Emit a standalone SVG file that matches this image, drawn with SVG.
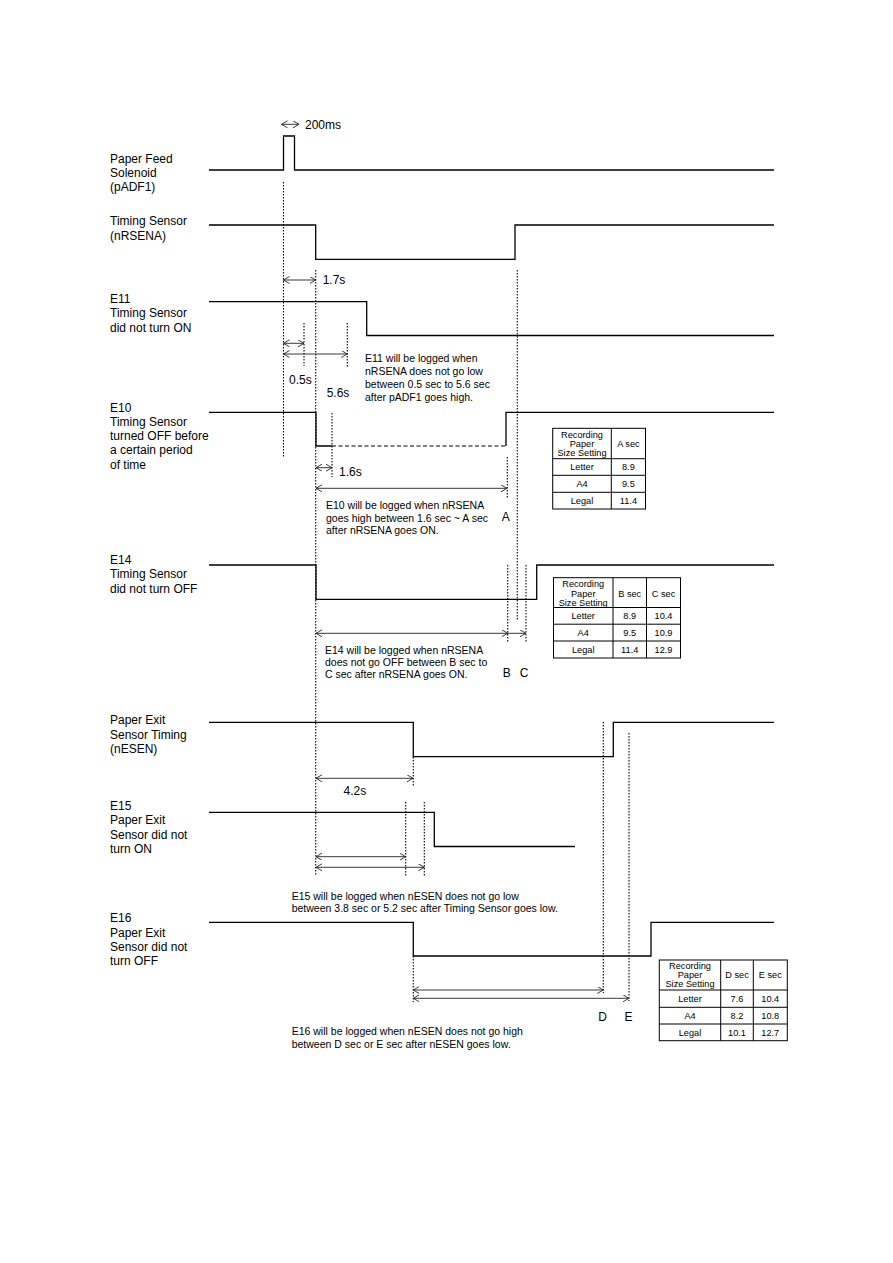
<svg xmlns="http://www.w3.org/2000/svg" width="893" height="1263" viewBox="0 0 893 1263">
<defs>
<style>
.w{fill:none;stroke:#000;stroke-width:1.3}
.g{fill:none;stroke:#000;stroke-width:1.1;stroke-dasharray:1.4 1.6}
.d{fill:none;stroke:#000;stroke-width:1.1;stroke-dasharray:4 2.5}
.a{fill:none;stroke:#222;stroke-width:0.9;marker-start:url(#ah);marker-end:url(#ah)}
.a1{fill:none;stroke:#222;stroke-width:0.9;marker-end:url(#ah)}
.t{font-family:"Liberation Sans",Arial,sans-serif;font-size:12px;fill:#000}
.n{font-family:"Liberation Sans",Arial,sans-serif;font-size:10.5px;fill:#000}
.tb{fill:none;stroke:#000;stroke-width:1}
.th{font-family:"Liberation Sans",Arial,sans-serif;font-size:9.2px;fill:#000;text-anchor:middle}
.c{text-anchor:middle}
</style>
<marker id="ah" markerWidth="9" markerHeight="9" refX="6" refY="3.5" orient="auto-start-reverse" markerUnits="userSpaceOnUse">
<path d="M0,0 L6,3.5 L0,7" fill="none" stroke="#222" stroke-width="0.9"/>
</marker>
</defs>
<rect width="893" height="1263" fill="#fff"/>

<g id="sig-padf1">
<text class="t" x="110" y="162.5">Paper Feed</text>
<text class="t" x="110" y="176.8">Solenoid</text>
<text class="t" x="110" y="191">(pADF1)</text>
<path class="w" d="M209,170 H283.5 V136 H294.5 V170 H774"/>
</g>
<g id="sig-nrsena">
<text class="t" x="110" y="225.3">Timing Sensor</text>
<text class="t" x="110" y="239.6">(nRSENA)</text>
<path class="w" d="M209,225 H315.7 V259.3 H515 V225 H774"/>
</g>
<g id="sig-e11">
<text class="t" x="110" y="303">E11</text>
<text class="t" x="110" y="317.3">Timing Sensor</text>
<text class="t" x="110" y="331.6">did not turn ON</text>
<path class="w" d="M209,301.7 H366.7 V335.5 H774"/>
</g>
<g id="sig-e10">
<text class="t" x="110" y="412">E10</text>
<text class="t" x="110" y="426">Timing Sensor</text>
<text class="t" x="110" y="440.3">turned OFF before</text>
<text class="t" x="110" y="454.3">a certain period</text>
<text class="t" x="110" y="468.6">of time</text>
<path class="w" d="M209,412.3 H316 V446 H332"/>
<path class="d" d="M332,446 H506"/>
<path class="w" d="M506,446 V412.3 H774"/>
</g>
<g id="sig-e14">
<text class="t" x="110" y="563.5">E14</text>
<text class="t" x="110" y="578">Timing Sensor</text>
<text class="t" x="110" y="592.5">did not turn OFF</text>
<path class="w" d="M209,565 H316 V599.3 H536.7 V565 H774"/>
</g>
<g id="sig-nesen">
<text class="t" x="110" y="724">Paper Exit</text>
<text class="t" x="110" y="738.5">Sensor Timing</text>
<text class="t" x="110" y="753">(nESEN)</text>
<path class="w" d="M209,722.3 H413.3 V756.7 H613.3 V722.3 H774"/>
</g>
<g id="sig-e15">
<text class="t" x="110" y="809.5">E15</text>
<text class="t" x="110" y="824">Paper Exit</text>
<text class="t" x="110" y="838.5">Sensor did not</text>
<text class="t" x="110" y="853">turn ON</text>
<path class="w" d="M209,812.3 H434.3 V846.5 H575"/>
</g>
<g id="sig-e16">
<text class="t" x="110" y="922">E16</text>
<text class="t" x="110" y="936.5">Paper Exit</text>
<text class="t" x="110" y="951">Sensor did not</text>
<text class="t" x="110" y="965">turn OFF</text>
<path class="w" d="M209,922.3 H413.3 V956 H651 V922.3 H774"/>
</g>

<g id="guides">
<path class="g" d="M283.5,182 V457"/>
<path class="g" d="M315.7,270 V875"/>
<path class="g" d="M304,323 V366"/>
<path class="g" d="M347.3,323 V367"/>
<path class="g" d="M332,413 V477"/>
<path class="g" d="M517.3,270 V620"/>
<path class="g" d="M507.3,457 V499"/>
<path class="g" d="M507.7,565 V642"/>
<path class="g" d="M526,565 V642"/>
<path class="g" d="M413.3,757 V787"/>
<path class="g" d="M405.7,802 V877"/>
<path class="g" d="M424.3,802 V877"/>
<path class="g" d="M603.3,722 V993"/>
<path class="g" d="M629,733 V1001"/>
<path class="g" d="M413.3,956 V1002"/>
</g>

<g id="connectors">
<path class="a" d="M281.5,124.3 H299"/>
<path class="a" d="M283.5,280 H315.7"/>
<path class="a" d="M283.5,343.3 H304"/>
<path class="a" d="M283.5,354 H347.3"/>
<path class="a" d="M316,467.7 H332"/>
<path class="a" d="M316,488.3 H507"/>
<path class="a" d="M316,633.3 H507.7"/>
<path class="a1" d="M507.7,633.3 H526"/>
<path class="a" d="M316,778.3 H413"/>
<path class="a" d="M316,856.7 H405.7"/>
<path class="a" d="M316,867.3 H424.3"/>
<path class="a" d="M413.3,990 H603.3"/>
<path class="a" d="M413.3,998.3 H629"/>
</g>

<g id="dim-labels">
<text class="t" x="305" y="128.6">200ms</text>
<text class="t" x="322.7" y="284.3">1.7s</text>
<text class="t" x="289" y="383.6">0.5s</text>
<text class="t" x="326.7" y="397">5.6s</text>
<text class="t" x="339" y="476">1.6s</text>
<text class="t c" x="505.7" y="520.5">A</text>
<text class="t c" x="506.7" y="676.6">B</text>
<text class="t c" x="524" y="676.6">C</text>
<text class="t" x="343.6" y="794.5">4.2s</text>
<text class="t c" x="602.5" y="1021">D</text>
<text class="t c" x="628.5" y="1021">E</text>
</g>

<g id="notes">
<text class="n" x="365" y="361.5">E11 will be logged when</text>
<text class="n" x="365" y="374.5">nRSENA does not go low</text>
<text class="n" x="365" y="387.5">between 0.5 sec to 5.6 sec</text>
<text class="n" x="365" y="400.5">after pADF1 goes high.</text>
<text class="n" x="326" y="509">E10 will be logged when nRSENA</text>
<text class="n" x="326" y="521.5">goes high between 1.6 sec ~ A sec</text>
<text class="n" x="326" y="534">after nRSENA goes ON.</text>
<text class="n" x="325" y="654">E14 will be logged when nRSENA</text>
<text class="n" x="325" y="666.2">does not go OFF between B sec to</text>
<text class="n" x="325" y="678.3">C sec after nRSENA goes ON.</text>
<text class="n" x="291.7" y="899.5">E15 will be logged when nESEN does not go low</text>
<text class="n" x="291.7" y="912">between 3.8 sec or 5.2 sec after Timing Sensor goes low.</text>
<text class="n" x="291.7" y="1034.5">E16 will be logged when nESEN does not go high</text>
<text class="n" x="291.7" y="1048">between D sec or E sec after nESEN goes low.</text>
</g>

<g id="table-a">
<rect class="tb" x="552.7" y="428.3" width="92.8" height="80.7"/>
<path class="tb" d="M611.3,428.3 V509 M552.7,458.7 H645.5 M552.7,475.3 H645.5 M552.7,492.3 H645.5"/>
<text class="th" x="582" y="437.5">Recording</text>
<text class="th" x="582" y="446.5">Paper</text>
<text class="th" x="582" y="455.5">Size Setting</text>
<text class="th" x="628.4" y="446.5">A sec</text>
<text class="th" x="582" y="470.2">Letter</text>
<text class="th" x="628.4" y="470.2">8.9</text>
<text class="th" x="582" y="487">A4</text>
<text class="th" x="628.4" y="487">9.5</text>
<text class="th" x="582" y="503.8">Legal</text>
<text class="th" x="628.4" y="503.8">11.4</text>
</g>

<g id="table-bc">
<rect class="tb" x="553.5" y="577.7" width="127" height="80.3"/>
<path class="tb" d="M613,577.7 V658 M646.5,577.7 V658 M553.5,607.5 H680.5 M553.5,624.2 H680.5 M553.5,641 H680.5"/>
<text class="th" x="583.2" y="587.2">Recording</text>
<text class="th" x="583.2" y="596.5">Paper</text>
<text class="th" x="583.2" y="605.9">Size Setting</text>
<text class="th" x="629.7" y="596.5">B sec</text>
<text class="th" x="663.5" y="596.5">C sec</text>
<text class="th" x="583.2" y="619">Letter</text>
<text class="th" x="629.7" y="619">8.9</text>
<text class="th" x="663.5" y="619">10.4</text>
<text class="th" x="583.2" y="635.8">A4</text>
<text class="th" x="629.7" y="635.8">9.5</text>
<text class="th" x="663.5" y="635.8">10.9</text>
<text class="th" x="583.2" y="652.7">Legal</text>
<text class="th" x="629.7" y="652.7">11.4</text>
<text class="th" x="663.5" y="652.7">12.9</text>
</g>

<g id="table-de">
<rect class="tb" x="659.3" y="960" width="128" height="80.7"/>
<path class="tb" d="M720.7,960 V1040.7 M753.3,960 V1040.7 M659.3,990 H787.3 M659.3,1007.3 H787.3 M659.3,1024 H787.3"/>
<text class="th" x="690" y="969.2">Recording</text>
<text class="th" x="690" y="978.2">Paper</text>
<text class="th" x="690" y="987.2">Size Setting</text>
<text class="th" x="737" y="978.2">D sec</text>
<text class="th" x="770.3" y="978.2">E sec</text>
<text class="th" x="690" y="1001.8">Letter</text>
<text class="th" x="737" y="1001.8">7.6</text>
<text class="th" x="770.3" y="1001.8">10.4</text>
<text class="th" x="690" y="1018.8">A4</text>
<text class="th" x="737" y="1018.8">8.2</text>
<text class="th" x="770.3" y="1018.8">10.8</text>
<text class="th" x="690" y="1035.5">Legal</text>
<text class="th" x="737" y="1035.5">10.1</text>
<text class="th" x="770.3" y="1035.5">12.7</text>
</g>
</svg>
